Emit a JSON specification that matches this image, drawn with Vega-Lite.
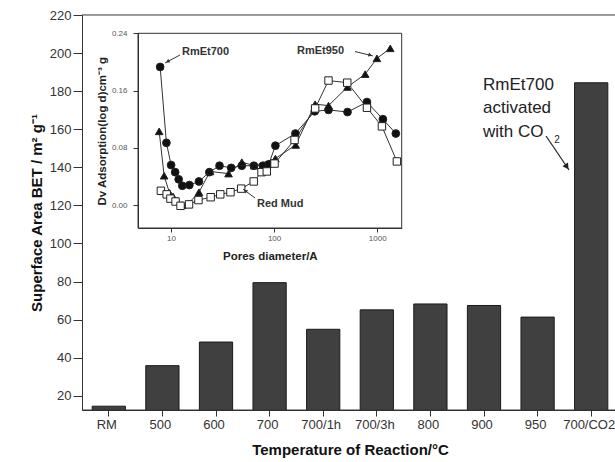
{
  "$schema": "https://vega.github.io/schema/vega-lite/v6.json",
  "width": 533,
  "height": 395,
  "autosize": "none",
  "padding": {"left": 82, "top": 15, "right": 0, "bottom": 52},
  "config": {
    "view": {"stroke": null},
    "font": "Liberation Sans",
    "axis": {"grid": false}
  },
  "datasets": {
    "bars": [
      {"sample": "RM", "bet": 14.5},
      {"sample": "500", "bet": 35.8},
      {"sample": "600", "bet": 48.2},
      {"sample": "700", "bet": 79.4},
      {"sample": "700/1h", "bet": 54.9},
      {"sample": "700/3h", "bet": 65.1},
      {"sample": "800", "bet": 68.2},
      {"sample": "900", "bet": 67.4},
      {"sample": "950", "bet": 61.3},
      {"sample": "700/CO2", "bet": 184.4}
    ],
    "pores": [
      {"series": "RmEt700", "d": 7.87, "v": 0.193},
      {"series": "RmEt700", "d": 9.05, "v": 0.087},
      {"series": "RmEt700", "d": 10.05, "v": 0.056},
      {"series": "RmEt700", "d": 11.0, "v": 0.046},
      {"series": "RmEt700", "d": 11.9, "v": 0.036},
      {"series": "RmEt700", "d": 12.9, "v": 0.027},
      {"series": "RmEt700", "d": 15.1, "v": 0.028},
      {"series": "RmEt700", "d": 18.7, "v": 0.033},
      {"series": "RmEt700", "d": 23.6, "v": 0.046},
      {"series": "RmEt700", "d": 29.6, "v": 0.055},
      {"series": "RmEt700", "d": 38.4, "v": 0.052},
      {"series": "RmEt700", "d": 48.7, "v": 0.055},
      {"series": "RmEt700", "d": 63.7, "v": 0.055},
      {"series": "RmEt700", "d": 78, "v": 0.055},
      {"series": "RmEt700", "d": 88.8, "v": 0.057},
      {"series": "RmEt700", "d": 103, "v": 0.083},
      {"series": "RmEt700", "d": 161, "v": 0.1},
      {"series": "RmEt700", "d": 248, "v": 0.131},
      {"series": "RmEt700", "d": 337, "v": 0.133},
      {"series": "RmEt700", "d": 515, "v": 0.13},
      {"series": "RmEt700", "d": 795, "v": 0.144},
      {"series": "RmEt700", "d": 1135, "v": 0.12},
      {"series": "RmEt700", "d": 1514, "v": 0.1},
      {"series": "RmEt950", "d": 7.7, "v": 0.103},
      {"series": "RmEt950", "d": 8.6, "v": 0.041},
      {"series": "RmEt950", "d": 9.7, "v": 0.017},
      {"series": "RmEt950", "d": 10.5, "v": 0.012},
      {"series": "RmEt950", "d": 11.5, "v": 0.006},
      {"series": "RmEt950", "d": 12.9, "v": 0.0},
      {"series": "RmEt950", "d": 14.5, "v": 0.001},
      {"series": "RmEt950", "d": 18.7, "v": 0.018},
      {"series": "RmEt950", "d": 24, "v": 0.047},
      {"series": "RmEt950", "d": 36.2, "v": 0.044},
      {"series": "RmEt950", "d": 48.7, "v": 0.06},
      {"series": "RmEt950", "d": 64.4, "v": 0.055},
      {"series": "RmEt950", "d": 103, "v": 0.065},
      {"series": "RmEt950", "d": 162, "v": 0.084},
      {"series": "RmEt950", "d": 250, "v": 0.141},
      {"series": "RmEt950", "d": 337, "v": 0.139},
      {"series": "RmEt950", "d": 515, "v": 0.165},
      {"series": "RmEt950", "d": 764, "v": 0.183},
      {"series": "RmEt950", "d": 993, "v": 0.205},
      {"series": "RmEt950", "d": 1337, "v": 0.219},
      {"series": "Red Mud", "d": 8.0, "v": 0.02},
      {"series": "Red Mud", "d": 9.1, "v": 0.015},
      {"series": "Red Mud", "d": 9.9, "v": 0.009},
      {"series": "Red Mud", "d": 11.1, "v": 0.005},
      {"series": "Red Mud", "d": 12.4, "v": -0.001},
      {"series": "Red Mud", "d": 15.0, "v": 0.001},
      {"series": "Red Mud", "d": 18.5, "v": 0.007},
      {"series": "Red Mud", "d": 24.3, "v": 0.011},
      {"series": "Red Mud", "d": 30.1, "v": 0.015},
      {"series": "Red Mud", "d": 37.8, "v": 0.018},
      {"series": "Red Mud", "d": 48, "v": 0.023},
      {"series": "Red Mud", "d": 63.5, "v": 0.033},
      {"series": "Red Mud", "d": 75.6, "v": 0.046},
      {"series": "Red Mud", "d": 85, "v": 0.047},
      {"series": "Red Mud", "d": 101, "v": 0.058},
      {"series": "Red Mud", "d": 158, "v": 0.091},
      {"series": "Red Mud", "d": 250, "v": 0.135},
      {"series": "Red Mud", "d": 337, "v": 0.174},
      {"series": "Red Mud", "d": 512, "v": 0.171},
      {"series": "Red Mud", "d": 795, "v": 0.136},
      {"series": "Red Mud", "d": 1110, "v": 0.11},
      {"series": "Red Mud", "d": 1550, "v": 0.061}
    ]
  },
  "layer": [
    {
      "data": {"name": "bars"},
      "mark": {"type": "bar", "clip": true, "fill": "#404040", "stroke": "#1a1a1a", "strokeWidth": 1},
      "encoding": {
        "x": {
          "field": "sample", "type": "nominal", "sort": null,
          "scale": {"range": [0, 536], "paddingInner": 0.38, "paddingOuter": 0.19},
          "axis": {
            "orient": "bottom",
            "domainColor": "#333", "tickColor": "#333",
            "title": "Temperature of Reaction/°C",
            "titleFontSize": 15, "titleFontWeight": "bold", "titleColor": "#111",
            "titlePadding": 11,
            "labelFontSize": 13, "labelColor": "#333", "labelAngle": 0, "labelOffset": -2,
            "tickSize": 6, "labelPadding": 2
          }
        },
        "y": {
          "field": "bet", "type": "quantitative",
          "scale": {"domain": [12.5, 220], "nice": false, "zero": false},
          "axis": {
            "orient": "left",
            "domainColor": "#333", "tickColor": "#333",
            "title": "Superface Area BET / m² g⁻¹",
            "titleFontSize": 15, "titleFontWeight": "bold", "titleColor": "#111",
            "titlePadding": 5,
            "values": [20, 40, 60, 80, 100, 120, 140, 160, 180, 200, 220],
            "labelOverlap": false,
            "tickSize": 9,
            "labelFontSize": 13, "labelColor": "#333", "labelPadding": 2
          }
        }
      }
    },
    {
      "layer": [
        {
          "data": {"values": [{}]},
          "mark": {"type": "rect", "filled": false, "stroke": "#333", "strokeWidth": 1},
          "encoding": {
            "x": {"datum": 4.8, "type": "quantitative"},
            "x2": {"datum": 1726},
            "y": {"datum": -0.032, "type": "quantitative"},
            "y2": {"datum": 0.24}
          }
        },
        {
          "data": {"name": "pores"},
          "mark": {"type": "line", "color": "#333", "strokeWidth": 1},
          "encoding": {
            "x": {
              "field": "d", "type": "quantitative",
              "scale": {"type": "log", "domain": [4.8, 1726], "range": [56, 319.7], "nice": false},
              "axis": {
                "orient": "bottom", "offset": -182,
                "domainColor": "#333", "tickColor": "#333",
                "values": [10, 100, 1000], "format": "d",
                "tickSize": 4,
                "labelFontSize": 8, "labelColor": "#555", "labelPadding": 2,
                "title": "Pores diameter/A", "titleFontSize": 11.5, "titleFontWeight": "bold", "titleColor": "#222", "titlePadding": 8
              }
            },
            "y": {
              "field": "v", "type": "quantitative",
              "scale": {"domain": [-0.032, 0.24], "range": [213, 18.3], "nice": false, "zero": false},
              "axis": {
                "orient": "left", "offset": -56,
                "domainColor": "#333", "tickColor": "#333",
                "values": [0, 0.08, 0.16, 0.24], "format": ".2f",
                "tickSize": 5, "labelFontSize": 8, "labelColor": "#555", "labelPadding": 6,
                "title": "Dv Adsorption(log d)cm⁻³ g", "titleFontSize": 11.5, "titleFontWeight": "bold", "titleColor": "#222", "titlePadding": 4
              }
            },
            "detail": {"field": "series"}
          }
        },
        {
          "data": {"name": "pores"},
          "mark": {"type": "point", "opacity": 1, "strokeWidth": 1, "stroke": "#222"},
          "encoding": {
            "x": {"field": "d", "type": "quantitative"},
            "y": {"field": "v", "type": "quantitative"},
            "shape": {"field": "series", "type": "nominal", "scale": {"domain": ["RmEt700", "RmEt950", "Red Mud"], "range": ["circle", "triangle-up", "square"]}, "legend": null},
            "fill": {"field": "series", "type": "nominal", "scale": {"domain": ["RmEt700", "RmEt950", "Red Mud"], "range": ["#111111", "#111111", "#ffffff"]}, "legend": null},
            "size": {"field": "series", "type": "nominal", "scale": {"domain": ["RmEt700", "RmEt950", "Red Mud"], "range": [60, 55, 45]}, "legend": null}
          }
        },
        {
          "data": {"values": [{}]},
          "mark": {"type": "rule", "color": "#333", "strokeWidth": 1},
          "encoding": {"y": {"datum": 0.2656, "type": "quantitative"}}
        },
        {
          "data": {"values": [{}]},
          "mark": {"type": "rule", "color": "#333", "strokeWidth": 1},
          "encoding": {"y": {"datum": -0.2863, "type": "quantitative"}}
        },
        {
          "data": {"values": [{}]},
          "mark": {"type": "text", "align": "left", "baseline": "alphabetic", "fontSize": 17, "color": "#222", "lineBreak": "\n", "lineHeight": 23.5},
          "encoding": {
            "x": {"datum": 10600, "type": "quantitative"},
            "y": {"datum": 0.1608, "type": "quantitative"},
            "text": {"value": "RmEt700\nactivated\nwith CO"}
          }
        },
        {
          "data": {"values": [{}]},
          "mark": {"type": "text", "align": "center", "baseline": "middle", "fontSize": 10, "color": "#222"},
          "encoding": {
            "x": {"datum": 55290, "type": "quantitative"},
            "y": {"datum": 0.0909, "type": "quantitative"},
            "text": {"value": "2"}
          }
        },
        {
          "data": {"values": [{}]},
          "mark": {"type": "rule", "color": "#222", "strokeWidth": 1.2},
          "encoding": {
            "x": {"datum": 43230, "type": "quantitative"},
            "x2": {"datum": 72250},
            "y": {"datum": 0.0965, "type": "quantitative"},
            "y2": {"datum": 0.049}
          }
        },
        {
          "data": {"values": [{}]},
          "mark": {"type": "point", "shape": "triangle-up", "filled": true, "color": "#222", "size": 45, "angle": 146, "opacity": 1},
          "encoding": {
            "x": {"datum": 68800, "type": "quantitative"},
            "y": {"datum": 0.0536, "type": "quantitative"}
          }
        },
        {
          "data": {"values": [{}]},
          "mark": {"type": "text", "align": "left", "baseline": "middle", "fontSize": 11, "fontWeight": "bold", "color": "#333"},
          "encoding": {
            "x": {"datum": 12.8, "type": "quantitative"},
            "y": {"datum": 0.2139, "type": "quantitative"},
            "text": {"value": "RmEt700"}
          }
        },
        {
          "data": {"values": [{}]},
          "mark": {"type": "text", "align": "left", "baseline": "middle", "fontSize": 11, "fontWeight": "bold", "color": "#333"},
          "encoding": {
            "x": {"datum": 166.8, "type": "quantitative"},
            "y": {"datum": 0.2146, "type": "quantitative"},
            "text": {"value": "RmEt950"}
          }
        },
        {
          "data": {"values": [{}]},
          "mark": {"type": "text", "align": "left", "baseline": "middle", "fontSize": 11, "fontWeight": "bold", "color": "#333"},
          "encoding": {
            "x": {"datum": 68.3, "type": "quantitative"},
            "y": {"datum": 0.0015, "type": "quantitative"},
            "text": {"value": "Red Mud"}
          }
        },
        {
          "data": {"values": [{}]},
          "mark": {"type": "rule", "color": "#333", "strokeWidth": 1},
          "encoding": {
            "x": {"datum": 12.25, "type": "quantitative"},
            "x2": {"datum": 8.76},
            "y": {"datum": 0.2097, "type": "quantitative"},
            "y2": {"datum": 0.1985}
          }
        },
        {
          "data": {"values": [{}]},
          "mark": {"type": "point", "shape": "triangle-up", "filled": true, "color": "#333", "size": 18, "angle": 242, "opacity": 1},
          "encoding": {
            "x": {"datum": 9.29, "type": "quantitative"},
            "y": {"datum": 0.2005, "type": "quantitative"}
          }
        },
        {
          "data": {"values": [{}]},
          "mark": {"type": "rule", "color": "#333", "strokeWidth": 1},
          "encoding": {
            "x": {"datum": 608, "type": "quantitative"},
            "x2": {"datum": 910},
            "y": {"datum": 0.2146, "type": "quantitative"},
            "y2": {"datum": 0.2083}
          }
        },
        {
          "data": {"values": [{}]},
          "mark": {"type": "point", "shape": "triangle-up", "filled": true, "color": "#333", "size": 18, "angle": 108, "opacity": 1},
          "encoding": {
            "x": {"datum": 855, "type": "quantitative"},
            "y": {"datum": 0.2095, "type": "quantitative"}
          }
        },
        {
          "data": {"values": [{}]},
          "mark": {"type": "rule", "color": "#333", "strokeWidth": 1},
          "encoding": {
            "x": {"datum": 65.3, "type": "quantitative"},
            "x2": {"datum": 50},
            "y": {"datum": 0.0099, "type": "quantitative"},
            "y2": {"datum": 0.0225}
          }
        },
        {
          "data": {"values": [{}]},
          "mark": {"type": "point", "shape": "triangle-up", "filled": true, "color": "#333", "size": 18, "angle": 307, "opacity": 1},
          "encoding": {
            "x": {"datum": 52.7, "type": "quantitative"},
            "y": {"datum": 0.02, "type": "quantitative"}
          }
        }
      ]
    }
  ],
  "resolve": {"scale": {"x": "independent", "y": "independent"}, "axis": {"x": "independent", "y": "independent"}}
}
